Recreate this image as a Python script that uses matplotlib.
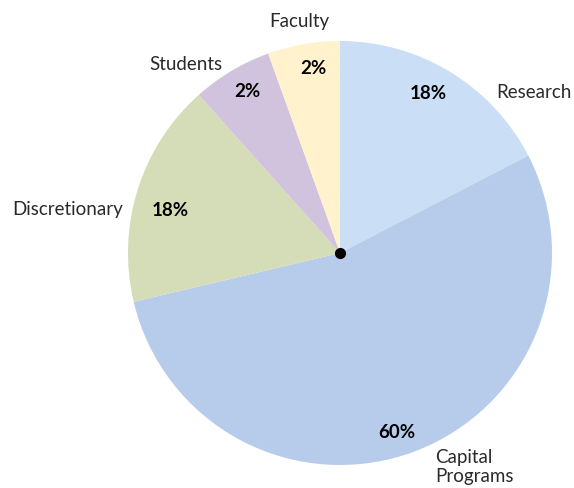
import matplotlib
matplotlib.use("Agg")
import matplotlib.pyplot as plt

categories = ["Research", "Capital\nPrograms", "Discretionary", "Students", "Faculty"]
values = [17.4, 53.9, 17.1, 6.1, 5.5]
pct_labels = ["18%", "60%", "18%", "2%", "2%"]
colors = ["#cadff5", "#b7cceb", "#d5dcb8", "#d1c3de", "#fff2cc"]

plt.rcParams['font.family'] = ['Lato', 'DejaVu Sans']

W, H = 574, 489
fig = plt.figure(figsize=(W / 100, H / 100), dpi=100)
cx, cy, r = 340, 254, 212
ax = fig.add_axes([(cx - r) / W, (H - cy - r) / H, 2 * r / W, 2 * r / H])

ax.pie(values, colors=colors, startangle=90, counterclock=False, radius=1,
       wedgeprops=dict(linewidth=0))
ax.set_xlim(-1, 1)
ax.set_ylim(-1, 1)
ax.set_aspect('equal')
ax.axis('off')

def d(px, py):
    return (px - cx) / r, (cy - py) / r

# category labels: (pixel position, ha)
label_pos = [((572, 93), 'right'), ((435, 467), 'left'), ((123, 210), 'right'),
             ((186, 65), 'center'), ((299, 22), 'center')]
for txt, ((px, py), ha) in zip(categories, label_pos):
    x, y = d(px, py)
    ax.text(x, y, txt, ha=ha, va='center', fontsize=13.5, fontweight='normal',
            color='#2a2a2a', clip_on=False, linespacing=1.15)

pct_pos = [(428, 94), (397, 433), (170, 211), (247, 92), (313, 68)]
for txt, (px, py) in zip(pct_labels, pct_pos):
    x, y = d(px, py)
    ax.text(x, y, txt, ha='center', va='center', fontsize=13.5, fontweight='bold',
            color='black', clip_on=False)

ax.plot([0], [0], 'o', color='black', markersize=7, clip_on=False)

fig.savefig("out.png", dpi=100, facecolor='white')
